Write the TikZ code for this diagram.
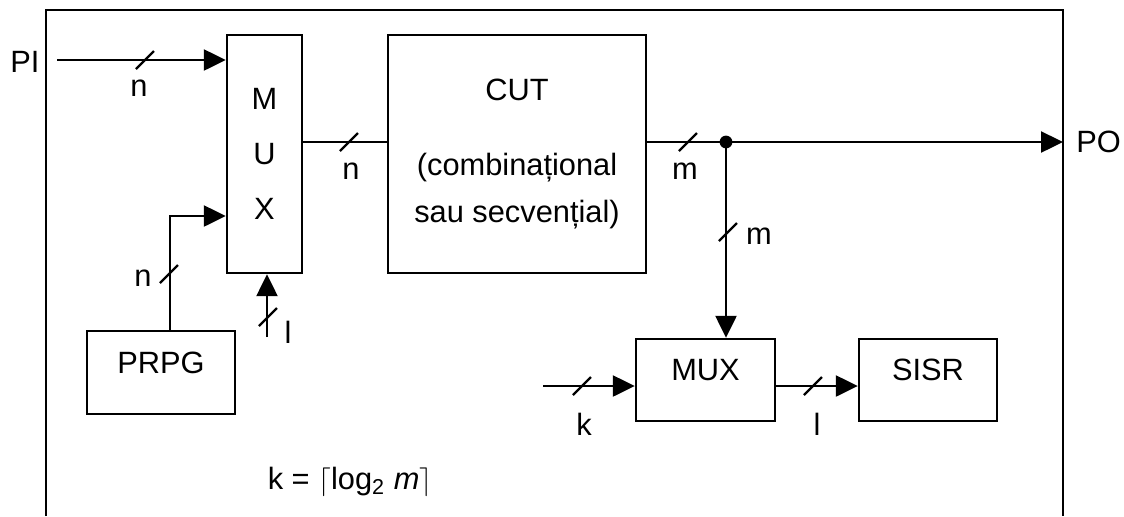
\documentclass[tikz,border=0pt]{standalone}
\usepackage{fontspec}
\setmainfont{Liberation Sans}
\usetikzlibrary{arrows.meta, calc}

\tikzset{
  blk/.style={draw, line width=1.2pt, inner sep=0pt},
  lbl/.style={inner sep=0pt},
  sig/.style={line width=1.2pt},
  arr/.style={sig, -{Triangle[length=11pt,width=10.5pt]}},
  bus/.pic={\draw[line width=1.2pt] (-4.5pt,-4.5pt) -- (4.5pt,4.5pt);}
}

\begin{document}
\begin{tikzpicture}[x=0.5pt, y=-0.5pt, font=\fontsize{15.4}{18}\selectfont]
  \useasboundingbox (0,0) rectangle (1124,516);
  % frame of the circuit, open at the bottom
  \draw[sig] (46,516) -- (46,10) -- (1063,10) -- (1063,516);

  % blocks
  \node[blk, minimum width=37.5pt, minimum height=119pt, align=center,
        font=\fontsize{15.4}{27.5}\selectfont] (mux1) at (264.5,154) {M\\U\\X};
  \node[blk, minimum width=129pt, minimum height=119pt, align=center,
        font=\fontsize{15.4}{23.5}\selectfont] (cut) at (517,154)
        {CUT\\[14pt](combinațional\\sau secvențial)};
  \node[blk, minimum width=74pt, minimum height=41.5pt, text height=11pt, text depth=10pt]
        (prpg) at (161,372.5) {PRPG};
  \node[blk, minimum width=69.5pt, minimum height=41pt, text height=11pt, text depth=11pt]
        (mux2) at (705.5,380) {MUX};
  \node[blk, minimum width=69pt, minimum height=41pt, text height=11pt, text depth=11pt]
        (sisr) at (928,380) {SISR};

  % primary inputs
  \coordinate (piin) at (57,60);
  \node[lbl] (pi) at (25,62) {PI};
  \draw[arr] (piin) -- (piin -| mux1.west);
  \path (145,60) pic {bus};
  \node[lbl] (npi) at (139,88) {n};

  % mux -> CUT
  \draw[sig] ([yshift=6pt]mux1.east) -- ([yshift=6pt]cut.west);
  \path (349,142) pic {bus};
  \node[lbl] (nmux) at (351,171) {n};

  % CUT -> primary outputs
  \coordinate (tap) at (726,142);
  \coordinate (poin) at (1063,142);
  \node[lbl, anchor=west] (po) at (1076,142) {PO};
  \draw[arr] ([yshift=6pt]cut.east) -- (poin);
  \fill (tap) circle (3.2pt);
  \path (688,142) pic {bus};
  \node[lbl] (mcut) at (685,171) {m};
  \draw[arr] (tap) -- (tap |- mux2.north);
  \path (728,232) pic {bus};
  \node[lbl] (mtap) at (759,236) {m};

  % PRPG -> mux
  \draw[arr] ([xshift=4.5pt]prpg.north) |- ([yshift=-31pt]mux1.west);
  \path (169,274) pic {bus};
  \node[lbl] (nprpg) at (143,278) {n};

  % select of the input mux
  \coordinate (lin) at (267,337);
  \draw[arr] (lin) -- (lin |- mux1.south);
  \path (268,317) pic {bus};
  \node[lbl] (lmux) at (288,332) {l};

  % output mux -> SISR
  \coordinate (kin) at (543,386);
  \draw[arr] (kin) -- (kin -| mux2.west);
  \path (582,386) pic {bus};
  \node[lbl] (kmux) at (584,424) {k};
  \draw[arr] ([yshift=-3pt]mux2.east) -- ([yshift=-3pt]sisr.west);
  \path (813,386) pic {bus};
  \node[lbl] (lsisr) at (817,424) {l};

  \node[lbl] (formula) at (350,482)
    {k = $\bigl\lceil$log\textsubscript{2} \textit{m}$\bigr\rceil$};
\end{tikzpicture}
\end{document}
